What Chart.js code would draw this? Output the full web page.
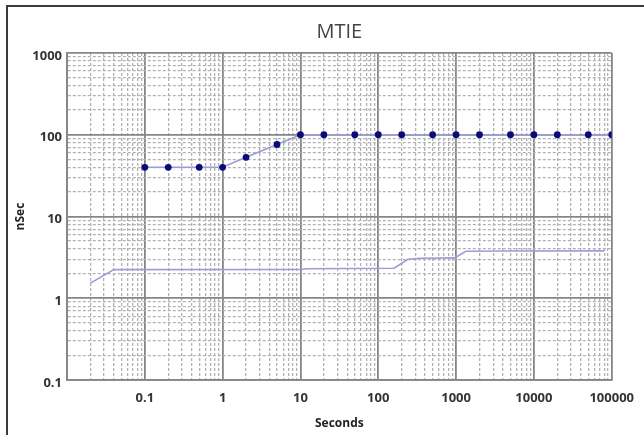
<!DOCTYPE html>
<html>
<head>
<meta charset="utf-8">
<script src="https://cdn.jsdelivr.net/npm/chart.js@4/dist/chart.umd.min.js"></script>
<style>
  html, body { margin: 0; padding: 0; background: #fff; }
  #wrap { position: relative; width: 644px; height: 435px; overflow: hidden; }
  #frame { position: absolute; left: 6px; top: 5px; width: 700px; height: 500px;
           border-left: 2px solid #3a3a3a; border-top: 2px solid #3a3a3a; }
  canvas { position: absolute; left: 0; top: 0; }
</style>
</head>
<body>
<div id="wrap">
  <div id="frame"></div>
  <canvas id="chartMtie" width="644" height="435"></canvas>
</div>
<script>
// ================= DATA =================
// mascara (pontos azuis)
const maskTau = [0.1, 0.2, 0.5, 1, 2, 5, 10, 20, 50, 100, 200, 500, 1000, 2000, 5000, 10000, 20000, 50000, 100000];
const maskMtie = [40, 40, 40, 40, 53, 76, 100, 100, 100, 100, 100, 100, 100, 100, 100, 100, 100, 100, 100];

// medida (linha sem pontos)
const measTau = [0.02, 0.04, 10, 12, 160, 240, 350, 960, 1330, 4200, 80000];
const measMtie = [1.53, 2.24, 2.25, 2.3, 2.33, 3.0, 3.08, 3.12, 3.76, 3.79, 3.8];

const xDecades = [0.01, 0.1, 1, 10, 100, 1000, 10000, 100000];
const yDecades = [0.1, 1, 10, 100, 1000];
const xLabels = ["0.1", "1", "10", "100", "1000", "10000", "100000"];
const yLabels = ["0.1", "1", "10", "100", "1000"];

const toPoints = (xs, ys) => xs.map((x, i) => ({ x: x, y: ys[i] }));

function logTicks(decades) {
  const t = [];
  decades.forEach((d, i) => {
    if (i === decades.length - 1) { t.push({ value: d }); return; }
    for (let k = 1; k <= 9; k++) t.push({ value: +(d * k).toPrecision(6) });
  });
  return t;
}

const isDecade = (v) => Math.abs(Math.log10(v) - Math.round(Math.log10(v))) < 1e-9;

function gridColor(ctx) {
  return ctx.tick && isDecade(ctx.tick.value) ? "#868686" : "#b2b2b2";
}
function gridWidth(ctx) {
  return ctx.tick && isDecade(ctx.tick.value) ? 1.8 : 1.3;
}
function gridDash(ctx) {
  return ctx.tick && isDecade(ctx.tick.value) ? [] : [3, 2];
}

const tickFont = { family: '"Open Sans", sans-serif', size: 13, weight: "bold" };

new Chart(document.getElementById("chartMtie").getContext("2d"), {
  type: "scatter",
  data: {
    datasets: [
      {
        label: "Mask",
        data: toPoints(maskTau, maskMtie),
        showLine: true,
        borderColor: "#9c9cd8",
        borderWidth: 1.6,
        pointBackgroundColor: "#0a0a78",
        pointBorderColor: "#0a0a78",
        pointRadius: 3.4,
        pointBorderWidth: 0,
      },
      {
        label: "MTIE",
        data: toPoints(measTau, measMtie),
        showLine: true,
        borderColor: "#9c9cd8",
        borderWidth: 1.6,
        pointRadius: 0,
      },
    ],
  },
  options: {
    responsive: false,
    animation: false,
    layout: { padding: { left: 8, right: 30, top: 0, bottom: 0 } },
    plugins: {
      legend: { display: false },
      tooltip: { enabled: false },
      title: {
        display: true,
        text: "MTIE",
        fullSize: false,
        color: "#444",
        font: { family: '"Open Sans", sans-serif', size: 20, weight: "normal", lineHeight: 1.2 },
        padding: { top: 20, bottom: 9 },
      },
    },
    scales: {
      x: {
        type: "logarithmic",
        min: 0.01,
        max: 100000,
        afterBuildTicks: (s) => { s.ticks = logTicks(xDecades); },
        afterFit: (s) => { s.height = 55; },
        ticks: {
          autoSkip: false,
          maxRotation: 0,
          padding: 10,
          color: "#333",
          font: tickFont,
          callback: (v) => {
            const i = xDecades.indexOf(v);
            return i > 0 ? xLabels[i - 1] : "";
          },
        },
        grid: { color: gridColor, lineWidth: gridWidth, drawTicks: false },
        border: { color: "#868686", width: 1.8, dash: gridDash },
        title: {
          display: true,
          text: "Seconds",
          color: "#222",
          font: { family: '"Open Sans", sans-serif', size: 12, weight: "bold" },
          padding: { top: 0, bottom: 4 },
        },
      },
      y: {
        type: "logarithmic",
        min: 0.1,
        max: 1000,
        afterBuildTicks: (s) => { s.ticks = logTicks(yDecades); },
        afterFit: (s) => { s.width = 59; },
        ticks: {
          autoSkip: false,
          padding: 5,
          labelOffset: 3,
          color: "#333",
          font: tickFont,
          callback: (v) => {
            const i = yDecades.indexOf(v);
            return i >= 0 ? yLabels[i] : "";
          },
        },
        grid: { color: gridColor, lineWidth: gridWidth, drawTicks: false },
        border: { color: "#868686", width: 1.8, dash: gridDash },
        title: {
          display: true,
          text: "nSec",
          color: "#222",
          font: { family: '"Open Sans", sans-serif', size: 12, weight: "bold" },
          padding: { top: 5, bottom: 0 },
        },
      },
    },
  },
});
</script>
</body>
</html>
